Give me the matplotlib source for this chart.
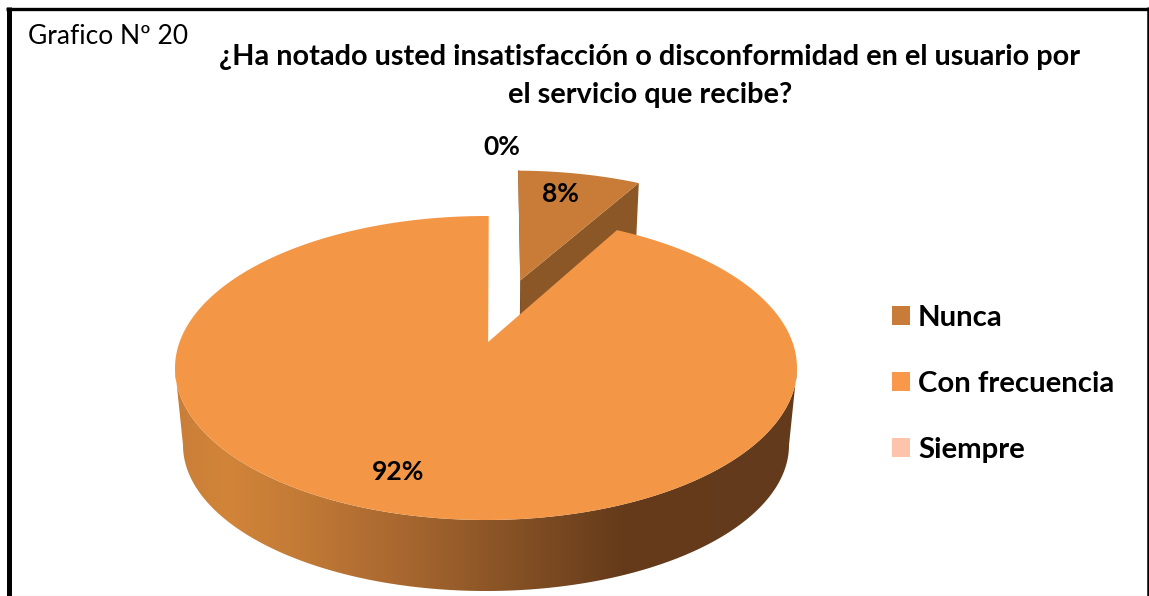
import numpy as np
import matplotlib
matplotlib.use("Agg")
import matplotlib.pyplot as plt
from matplotlib.colors import LinearSegmentedColormap
from matplotlib.patches import Patch, Polygon

plt.rcParams['font.family'] = ['Lato', 'DejaVu Sans']

# Survey results
categories = ["Nunca", "Con frecuencia", "Siempre"]
values = [8, 92, 0]
slice_colors = ["#C97C38", "#F39646", "#FBC4AB"]
legend_colors = ["#C97C3A", "#F9984A", "#FBC4AB"]
chart_label = "Grafico Nº 20"
title = "¿Ha notado usted insatisfacción o disconformidad en el usuario por\nel servicio que recibe?"

W, H = 1149, 596
CX, CY, RX, RY = 486.0, 368.0, 311.0, 152.0   # top face ellipse
LOW_CY, LOW_RX, LOW_RY = 445.0, 303.0, 146.0  # bottom face ellipse
TILT = 0.171                                  # perspective tilt of the disc
EXPLODE = 0.465                               # pull-out distance of the small slice
FIRST_ANGLE = np.deg2rad(0.6)                 # rotation of the first slice
APEX_DX = 0.007                               # sideways nudge of the main slice's apex


def project(px, py):
    """Perspective map from the unit disc to the tilted disc plane."""
    d = 1 + TILT * py
    return px * np.sqrt(1 - TILT ** 2) / d, (py + TILT) / d


def top_face(px, py):
    u, v = project(px, py)
    return CX + RX * u, CY - RY * v


def bottom_face(px, py):
    u, v = project(px, py)
    return CX + LOW_RX * u, LOW_CY - LOW_RY * v


def wedge(frac_start, frac_end, shift=(0.0, 0.0), apex_dx=0.0, n=240):
    """Apex and rim of a slice, clockwise from twelve o'clock, in disc coordinates."""
    ang = FIRST_ANGLE + 2 * np.pi * np.linspace(frac_start, frac_end, n)
    px = np.r_[apex_dx, np.sin(ang)] + shift[0]
    py = np.r_[0.0, np.cos(ang)] + shift[1]
    return px, py


fig = plt.figure(figsize=(W / 100, H / 100), dpi=100, facecolor="white")
ax = fig.add_axes([0, 0, 1, 1])
ax.set_xlim(0, W)
ax.set_ylim(H, 0)
ax.axis("off")

total = sum(values)
frac_small = values[0] / total
frac_main = values[1] / total
mid = FIRST_ANGLE + 2 * np.pi * frac_small / 2
shift = (EXPLODE * np.sin(mid), EXPLODE * np.cos(mid))

# Pulled-out slice: side wall, cut edge, then top
px, py = wedge(0, frac_small, shift)
tx, ty = top_face(px, py)
bx, by = bottom_face(px, py)
ax.add_patch(Polygon([(tx[0], ty[0]), (tx[-1], ty[-1]), (bx[-1], by[-1]), (bx[0], by[0])],
                     closed=True, fc="#8C5726", ec="none", zorder=2))
ax.add_patch(Polygon([(tx[0], ty[0]), (tx[1], ty[1]), (tx[1] + 1.5, ty[1]), (tx[0] + 1, by[0])],
                     closed=True, fc="#6B4020", ec="none", zorder=2))
ax.add_patch(Polygon(np.c_[tx, ty], closed=True, fc=slice_colors[0], ec="none", zorder=3))

# Main slice: shaded outer wall, between the widest points of the disc
widest = np.arccos(-TILT)
ang = np.linspace(widest, 2 * np.pi - widest, 400)
ux, uy = top_face(np.sin(ang), np.cos(ang))
lx, ly = bottom_face(np.sin(ang), np.cos(ang))
wall = Polygon(np.r_[np.c_[ux, uy], np.c_[lx, ly][::-1]], closed=True, fc="none", ec="none")
ax.add_patch(wall)
shade = LinearSegmentedColormap.from_list(
    "wall",
    [(0.0, "#C97E38"), (0.08, "#D28539"), (0.20, "#C27A36"), (0.36, "#A96830"),
     (0.52, "#8A5426"), (0.72, "#653B1B"), (1.0, "#633A1C")],
)
img = ax.imshow(np.linspace(0, 1, 600).reshape(1, -1), cmap=shade, aspect="auto",
                extent=(175, 797, 596, 360), zorder=4)
img.set_clip_path(wall)
ax.set_xlim(0, W)
ax.set_ylim(H, 0)

# Main slice: top
px, py = wedge(frac_small, frac_small + frac_main, apex_dx=APEX_DX)
tx, ty = top_face(px, py)
ax.add_patch(Polygon(np.c_[tx, ty], closed=True, fc=slice_colors[1], ec="none", zorder=5))

# Percentage labels
label_xy = [(560, 194), (398, 472), (502, 147)]
for val, (lx_, ly_) in zip(values, label_xy):
    ax.text(lx_, ly_, f"{val}%", ha="center", va="center", fontsize=19,
            fontweight="bold", color="black", zorder=6)

# Headings
ax.text(28, 37, chart_label, ha="left", va="center", fontsize=19, color="black")
ax.text(650, 76, title, ha="center", va="center", fontsize=20.8, fontweight="bold",
        color="black", linespacing=1.55)

# Legend
handles = [Patch(fc=c, ec="none", label=n) for c, n in zip(legend_colors, categories)]
leg = ax.legend(handles=handles, loc="center left", bbox_to_anchor=(892 / W, 1 - 384 / H),
                frameon=False, fontsize=21.2, handlelength=0.61, handleheight=0.61,
                handletextpad=0.27, labelspacing=1.35, borderpad=0, borderaxespad=0)
for t in leg.get_texts():
    t.set_fontweight("bold")

# Frame around the chart
ax.plot([8.5, 8.5], [7, H], color="black", lw=3.6, solid_capstyle="butt", zorder=7)
ax.plot([6, W], [8.5, 8.5], color="black", lw=2.4, solid_capstyle="butt", zorder=7)
ax.plot([1147.5, 1147.5], [7, H], color="black", lw=1.8, solid_capstyle="butt", zorder=7)
ax.plot([11, 1146], [595.5, 595.5], color="#D9D9D9", lw=0.9, solid_capstyle="butt", zorder=7)

fig.savefig("out.png", dpi=100, facecolor="white")
